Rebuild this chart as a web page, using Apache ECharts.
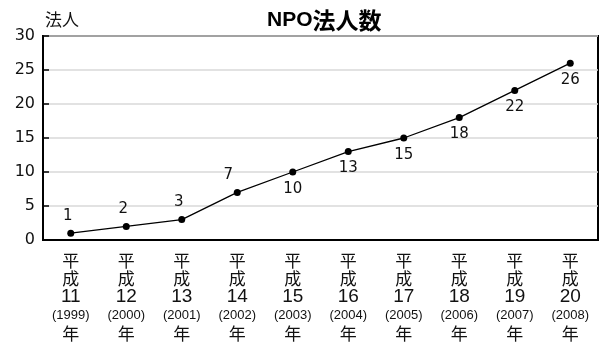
<!DOCTYPE html>
<html>
<head>
<meta charset="utf-8">
<script src="https://cdn.jsdelivr.net/npm/echarts@6/dist/echarts.min.js"></script>
<style>
  html, body { margin: 0; padding: 0; background: #fff; }
  #chart { width: 601px; height: 345px; }
</style>
</head>
<body>
<div id="chart"></div>
<script>
// 年度（平成・西暦）
const heiseiYears = ['11', '12', '13', '14', '15', '16', '17', '18', '19', '20'];
const westernYears = ['1999', '2000', '2001', '2002', '2003', '2004', '2005', '2006', '2007', '2008'];
// NPO法人数
const npoCounts = [1, 2, 3, 7, 10, 13, 15, 18, 22, 26];
// 数値ラベルを点の上に置く年度
const labelAbove = [true, true, true, true, false, false, false, false, false, false];
const yTicks = [0, 5, 10, 15, 20, 25, 30];

const categories = heiseiYears.map((h, i) => h + '|' + westernYears[i]);

const cjkFont = '"Noto Sans CJK JP", sans-serif';
const numFont = '"DejaVu Sans", "Liberation Sans", sans-serif';
const latinFont = '"Liberation Sans", Arial, sans-serif';

const chart = echarts.init(document.getElementById('chart'), null, { renderer: 'canvas' });
chart.setOption({
  animation: false,
  backgroundColor: '#fff',
  title: {
    text: '{a|NPO}{b|法人数}',
    left: 262,
    top: 4,
    textStyle: {
      rich: {
        a: { fontFamily: latinFont, fontSize: 21, fontWeight: 'bold', color: '#000' },
        b: { fontFamily: cjkFont, fontSize: 23, fontWeight: 'bold', color: '#000' }
      }
    }
  },
  grid: {
    left: 43, right: 3, top: 36, bottom: 105,
    show: true, borderColor: '#000', borderWidth: 2, backgroundColor: 'transparent'
  },
  xAxis: {
    type: 'category',
    data: categories,
    axisLine: { lineStyle: { color: '#000', width: 2 } },
    axisTick: { inside: true, length: 6, lineStyle: { color: '#000', width: 1.5 } },
    axisLabel: {
      interval: 0,
      margin: 11,
      formatter: function (v) {
        const p = v.split('|');
        return '{k|平}\n{k|成}\n{n|' + p[0] + '}\n{y|(' + p[1] + ')}\n{k|年}';
      },
      rich: {
        k: { fontFamily: cjkFont, fontSize: 17, lineHeight: 18.4, color: '#111' },
        n: { fontFamily: latinFont, fontSize: 19, lineHeight: 18.4, color: '#111' },
        y: { fontFamily: latinFont, fontSize: 13, lineHeight: 18.4, color: '#111' }
      }
    }
  },
  yAxis: {
    type: 'value',
    min: 0, max: 30, interval: 5,
    name: '法人',
    nameLocation: 'end',
    nameGap: 8,
    nameTextStyle: { fontFamily: cjkFont, fontSize: 17, color: '#111', align: 'left', verticalAlign: 'bottom', padding: [0, 0, 0, 2] },
    axisLine: { show: true, lineStyle: { color: '#000', width: 2 } },
    axisTick: { show: true, inside: true, length: 6, lineStyle: { color: '#000', width: 1.5 } },
    axisLabel: {
      margin: 8,
      fontFamily: numFont, fontSize: 16, color: '#111',
      formatter: function (v) { return yTicks.indexOf(v) >= 0 ? String(v) : ''; }
    },
    splitLine: { show: true, lineStyle: { color: '#d9d9d9', width: 1.5 } }
  },
  series: [{
    type: 'line',
    data: npoCounts.map((v, i) => ({
      value: v,
      label: {
        position: labelAbove[i] ? 'top' : 'bottom',
        offset: labelAbove[i] ? (v === 7 ? [-9, 0] : [-3, 0]) : [0, 0]
      }
    })),
    symbol: 'circle',
    symbolSize: 7,
    itemStyle: { color: '#000' },
    lineStyle: { color: '#000', width: 1.3 },
    label: {
      show: true,
      distance: 6,
      fontFamily: numFont, fontSize: 15, color: '#111'
    }
  }]
});
</script>
</body>
</html>
